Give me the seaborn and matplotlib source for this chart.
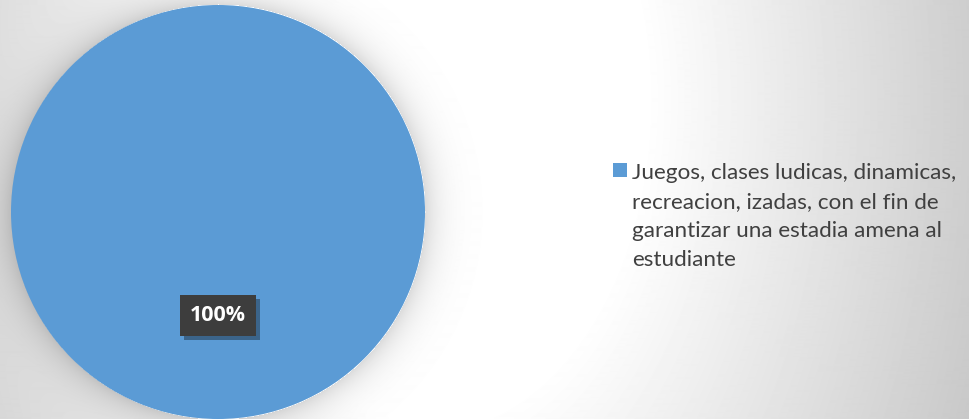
import textwrap
import numpy as np
import matplotlib
matplotlib.use('Agg')
import matplotlib.pyplot as plt
import matplotlib.patheffects as pe
from matplotlib.patches import Rectangle
from matplotlib.legend_handler import HandlerPatch
from matplotlib.patches import Wedge
import seaborn as sns

# data
categorias = ['Juegos, clases ludicas, dinamicas, recreacion, izadas, con el fin de garantizar una estadia amena al estudiante']
valores = [100]
colores = ['#5B9BD5']

sns.set_theme(style='white')
plt.rcParams['font.family'] = ['Lato', 'DejaVu Sans']

W, H = 969, 419
fig = plt.figure(figsize=(W / 100, H / 100), dpi=100)

# fondo: degradado gris + sombra suave alrededor del circulo
yy, xx = np.mgrid[0:H, 0:W]
d = np.sqrt((xx - 430.0) ** 2 + ((yy - 100.0) / 1.5) ** 2)
bg = 255 - 0.15 * np.clip(d - 215, 0, None)
dc = np.sqrt((xx - 218.0) ** 2 + (yy - 212.0) ** 2)
sombra = np.where(dc > 207, 36 * np.exp(-(dc - 207) / 16.0), 0)
bg = np.clip(bg - sombra, 0, 255) / 255.0
ax_bg = fig.add_axes([0, 0, 1, 1])
ax_bg.imshow(bg, cmap='gray', vmin=0, vmax=1, extent=[0, W, H, 0], aspect='auto', interpolation='bilinear')
ax_bg.axis('off')

# pastel
ax = fig.add_axes([11 / W, 0, 414 / W, 414 / H])
ax.set_facecolor('none')
wedges, texts, autotexts = ax.pie(valores, colors=colores, startangle=90, counterclock=False,
                                  autopct='%1.0f%%', pctdistance=0.5,
                                  wedgeprops=dict(linewidth=0))
ax.set_xlim(-1, 1)
ax.set_ylim(-1, 1)

for t in autotexts:
    t.set_color('white')
    t.set_fontsize(15.5)
    t.set_fontweight('bold')
    t.set_family(['Open Sans', 'DejaVu Sans'])
    t.set_bbox(dict(boxstyle='square,pad=0.46', facecolor='#3d3d3d', edgecolor='none'))
    t.get_bbox_patch().set_path_effects([pe.withSimplePatchShadow(offset=(3, -3), shadow_rgbFace='black', alpha=0.35),
                                         pe.Normal()])


# cuadrado de la leyenda alineado con la primera linea
def cuadro(legend, orig_handle, xdescent, ydescent, width, height, fontsize):
    lado = 0.64 * fontsize
    return Rectangle((-xdescent, -ydescent + height - lado), lado, lado)


etiquetas = [textwrap.fill(c, width=34) for c in categorias]
leg = fig.legend(wedges, etiquetas, loc='upper left', bbox_to_anchor=(613 / W, 1 - 163 / H),
                 bbox_transform=fig.transFigure, frameon=False, fontsize=16.2,
                 handlelength=0.64, handleheight=0.64, handletextpad=0.2,
                 borderpad=0, borderaxespad=0, labelcolor='#404040',
                 handler_map={Wedge: HandlerPatch(patch_func=cuadro)})
for t in leg.get_texts():
    t.set_linespacing(1.57)
for col in leg._legend_handle_box.get_children():
    for item in col.get_children():
        item.align = 'top'

fig.savefig('out.png', dpi=100)
